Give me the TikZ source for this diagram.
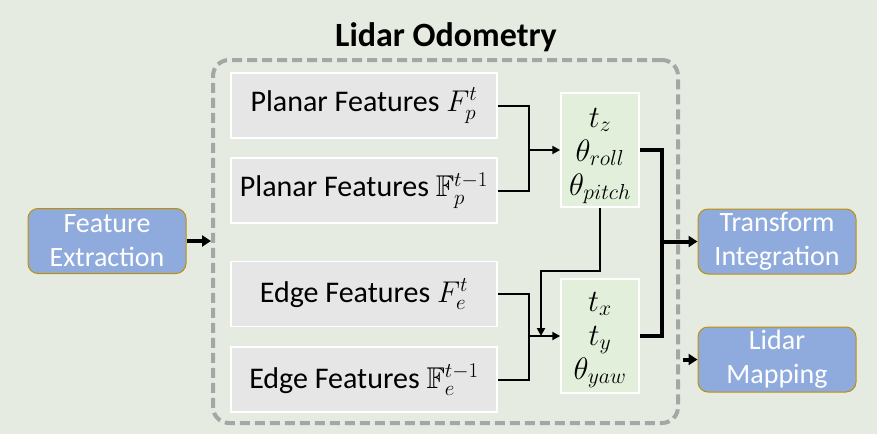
\documentclass[tikz,border=0pt]{standalone}
\usepackage{fix-cm}
\usepackage{amsmath,amssymb}
\usepackage{fontspec}
\setmainfont{Carlito}
\usetikzlibrary{arrows.meta}
\definecolor{bg}{HTML}{E6EBE1}
\definecolor{featgray}{HTML}{E6E6E6}
\definecolor{paramgreen}{HTML}{E2EFDA}
\definecolor{bluebox}{HTML}{8FAADC}
\definecolor{goldline}{HTML}{BF9000}
\definecolor{dashgray}{HTML}{A6A6A6}
\tikzset{
  featbox/.style={draw=white, line width=1.5pt, fill=featgray, minimum width=266pt, minimum height=65pt, inner sep=0pt, font=\fontsize{30}{36}\selectfont},
  parambox/.style={draw=white, line width=1.5pt, fill=paramgreen, minimum width=78pt, minimum height=114pt, inner sep=0pt},
  paramtext/.style={inner sep=0pt, align=center, font=\fontsize{31}{34}\selectfont},
  bluenode/.style={draw=goldline, line width=1pt, fill=bluebox, rounded corners=10pt, minimum width=158pt, minimum height=65pt, inner sep=0pt, align=center, text=white, font=\fontsize{28}{34}\selectfont},
  framebox/.style={draw=dashgray, line width=4pt, dash pattern=on 10pt off 5pt, rounded corners=16pt, minimum width=465pt, minimum height=363pt, inner sep=0pt},
  thinline/.style={line width=2pt, -{Triangle[length=8pt,width=8pt]}},
  plainline/.style={line width=2pt},
  thickline/.style={line width=4pt},
  thickarrow/.style={line width=4pt, -{Triangle[length=9pt,width=11pt]}},
}
\begin{document}
\begin{tikzpicture}[x=1pt,y=-1pt]
\fill[bg] (0,0) rectangle (877,434);
\useasboundingbox (0,0) rectangle (877,434);

\node[font=\fontsize{34}{40}\selectfont\bfseries] (title) at (446,37) {Lidar Odometry};
\node[framebox] (LO) at (445.5,241.5) {};

\node[featbox] (P1) at (364,105.5) {Planar Features $F_p^t$};
\node[featbox] (P2) at (364,190.5) {Planar Features $\mathbb{F}_p^{t-1}$};
\node[featbox] (E1) at (364,294) {Edge Features $F_e^t$};
\node[featbox] (E2) at (364,379.5) {Edge Features $\mathbb{F}_e^{t-1}$};

\node[parambox] (G1) at (600,150) {};
\node[paramtext] (G1t) at ([yshift=-6pt]G1.center) {$t_z$\\$\theta_{roll}$\\$\theta_{pitch}$};
\node[parambox] (G2) at (600,336) {};
\node[paramtext] (G2t) at ([yshift=-4pt]G2.center) {$t_x$\\$t_y$\\$\theta_{yaw}$};

\node[bluenode] (FE) at (107,241) {Feature\\Extraction};
\node[bluenode] (TI) at (777,241.5) {Transform\\Integration};
\node[bluenode] (LM) at (777,359.5) {Lidar\\Mapping};

\coordinate (j1) at (529,150);
\coordinate (j2) at (529,336);
\coordinate (k1) at (541,271);
\coordinate (k2) at (541,336);
\coordinate (m) at (662,241.5);

\draw[plainline] (P1.east) -| (j1);
\draw[plainline] (P2.east) -| (j1);
\draw[thinline] (j1) -- (G1.west);
\draw[plainline] (E1.east) -| (j2);
\draw[plainline] (E2.east) -| (j2);
\draw[thinline] (j2) -- (G2.west);
\draw[thinline] (G1.south) |- (k1) -- (k2);

\draw[thickline] (G1.east) -| (m);
\draw[thickline] (G2.east) -| (m);
\draw[thickarrow] (m) -- (TI.west);

\draw[thickarrow] (FE.east) -- (FE.east -| LO.west);
\draw[thickarrow] ([xshift=3pt]LO.east |- LM.west) -- (LM.west);
\end{tikzpicture}
\end{document}
